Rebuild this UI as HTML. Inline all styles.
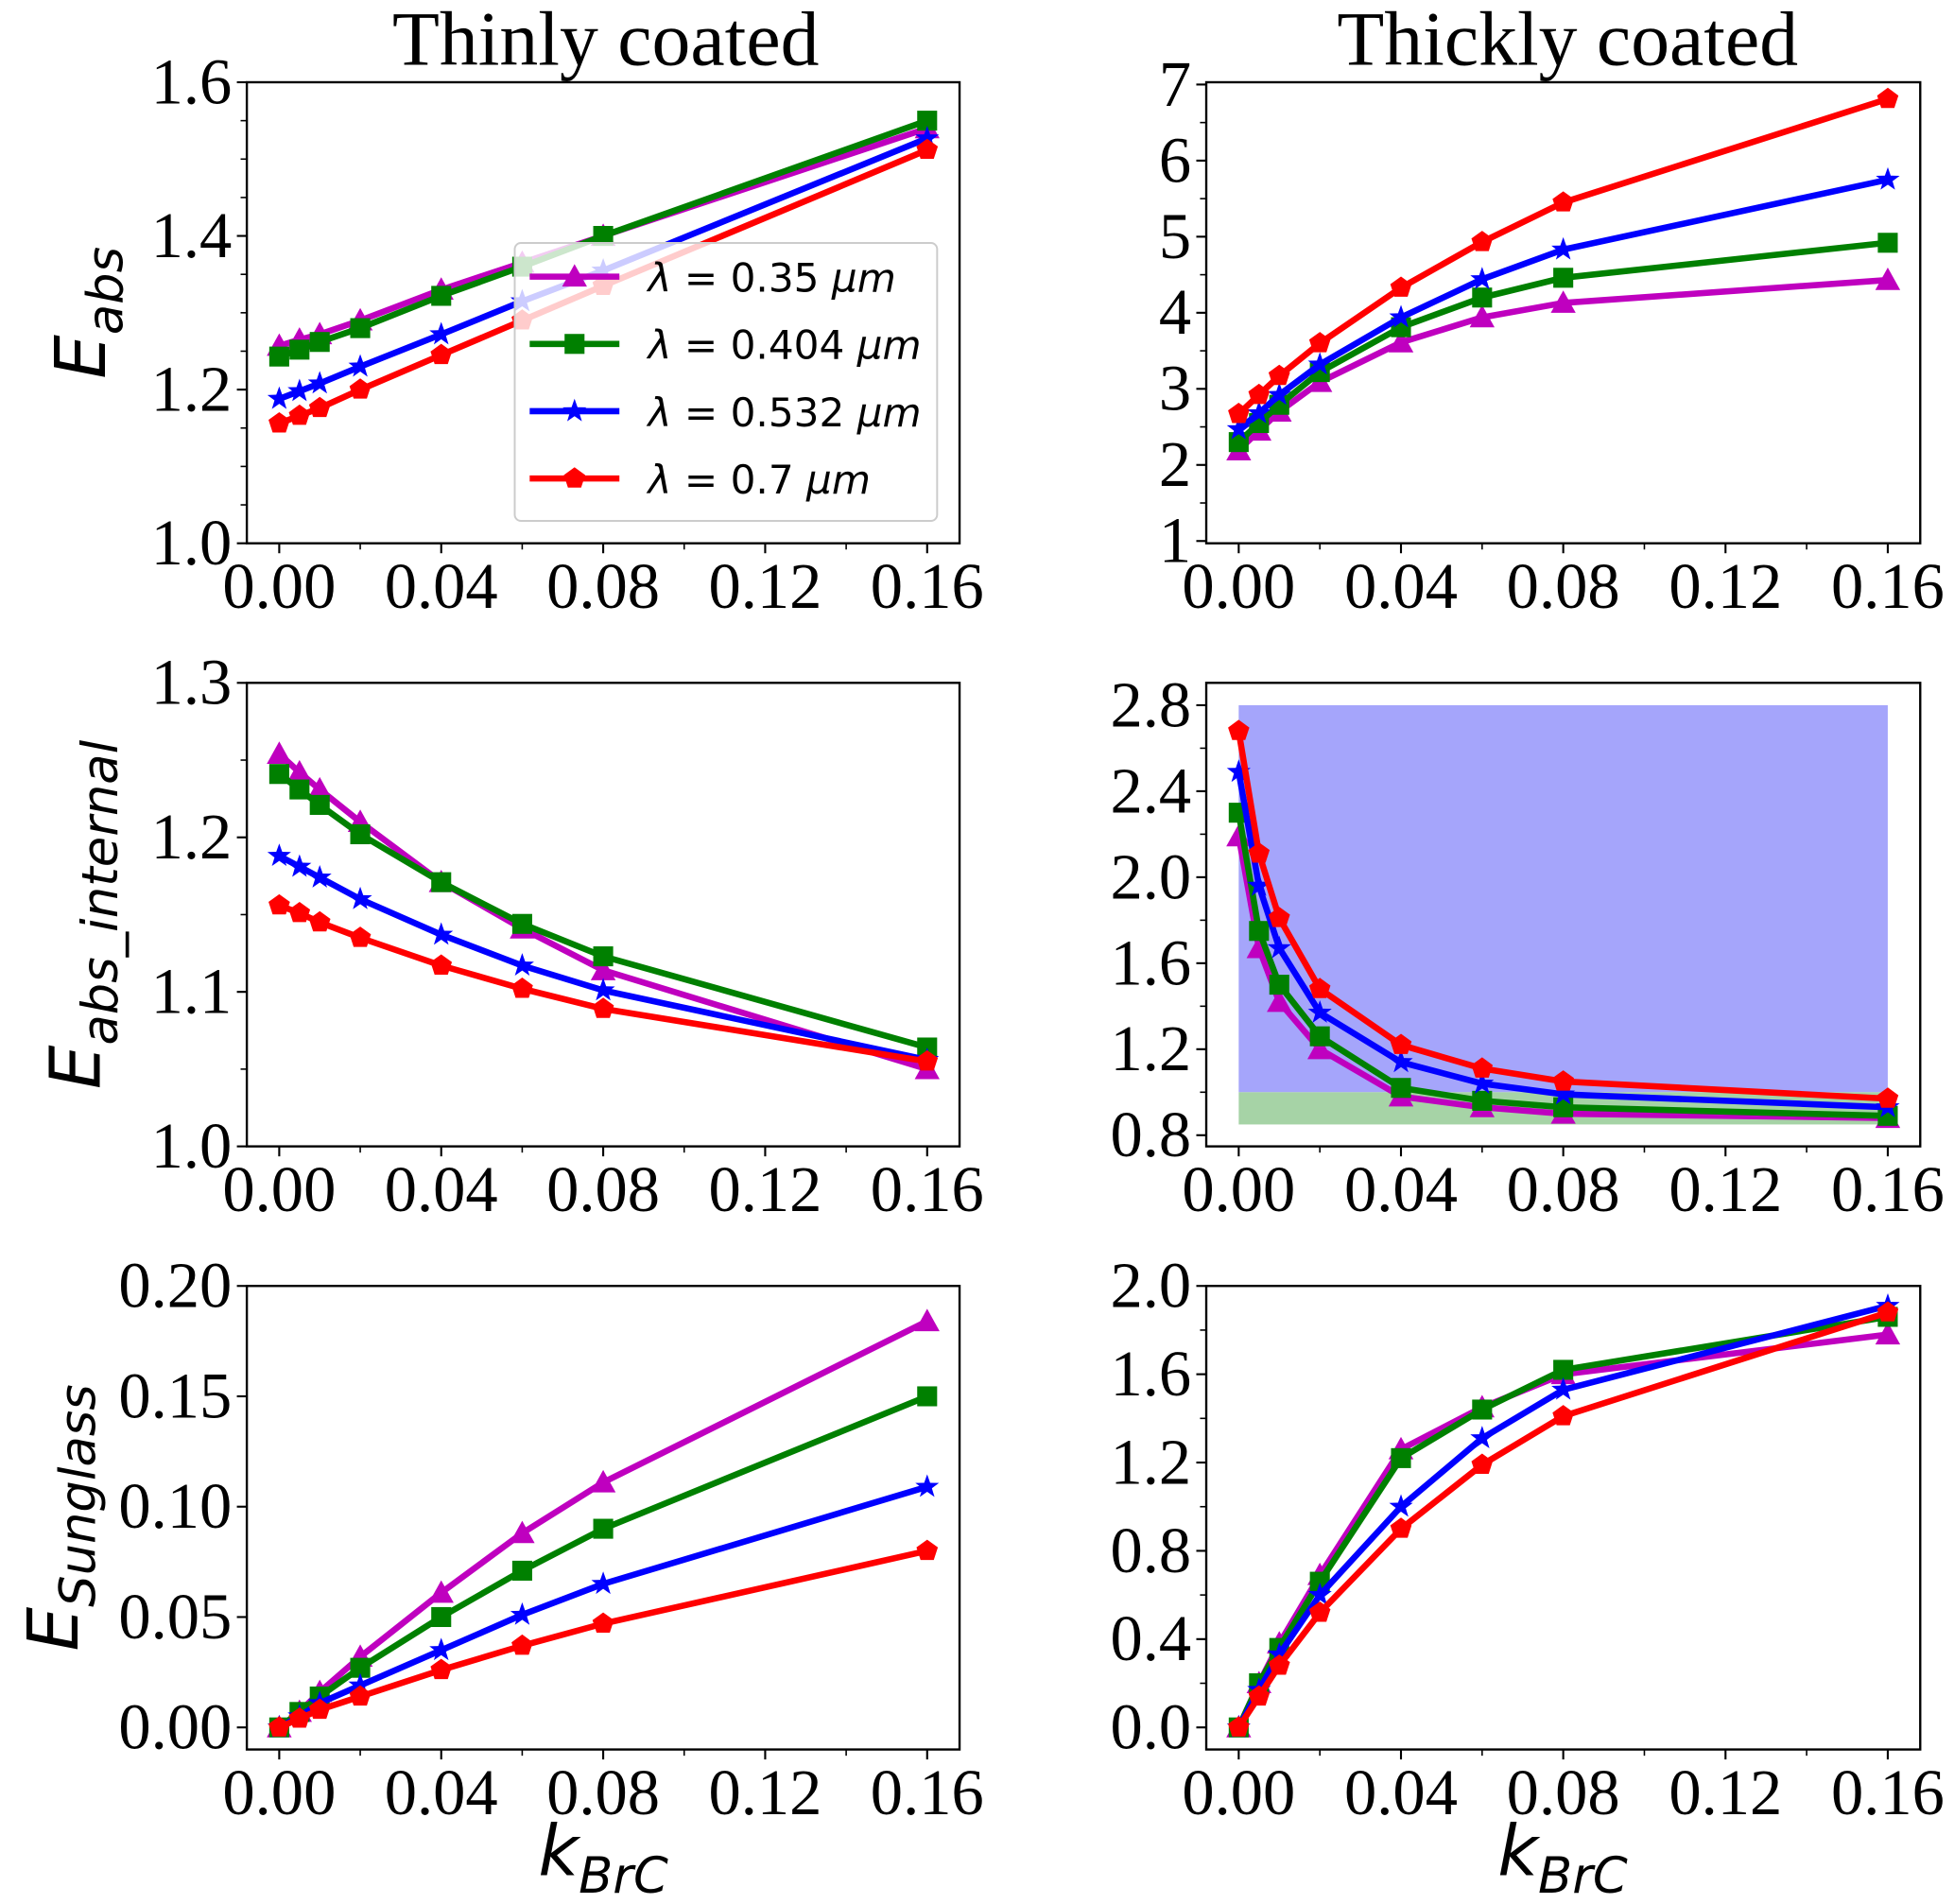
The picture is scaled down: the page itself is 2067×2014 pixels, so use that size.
<!DOCTYPE html>
<html><head><meta charset="utf-8"><style>
html,body{margin:0;padding:0;background:#fff;}
svg{display:block;}
.tick{font-family:"Liberation Serif","DejaVu Serif",serif;font-size:52px;fill:#000;}
.ttl{font-family:"Liberation Serif","DejaVu Serif",serif;font-size:62px;fill:#000;}
.lab{font-family:"DejaVu Sans","Liberation Sans",sans-serif;font-style:italic;fill:#000;}
.leg{font-family:"DejaVu Sans","Liberation Sans",sans-serif;font-size:32px;fill:#000;}
</style></head><body>
<svg id="fig" width="2067" height="2014" viewBox="0 0 1568 1528" xmlns="http://www.w3.org/2000/svg"></svg>
<script>
const kValues=[0,0.005,0.01,0.02,0.04,0.06,0.08,0.16];
const seriesNames=["lambda-0.35","lambda-0.404","lambda-0.532","lambda-0.7"];
const seriesColors=["#bf00bf","#008000","#0000ff","#ff0000"];
const seriesMarkers=["tri","sq","star","pent"];
const xTicks=[0,0.04,0.08,0.12,0.16];
const xTickLabels=["0.00","0.04","0.08","0.12","0.16"];
const eabsThin=[[1.257,1.265,1.272,1.29,1.33,1.365,1.40,1.54],[1.243,1.252,1.262,1.28,1.322,1.36,1.40,1.55],[1.188,1.198,1.208,1.23,1.272,1.315,1.355,1.527],[1.156,1.166,1.176,1.2,1.245,1.29,1.335,1.512]];
const eabsThinTicks=[1.0,1.2,1.4,1.6];
const eabsThinLabels=["1.0","1.2","1.4","1.6"];
const eabsThick=[[2.19,2.45,2.7,3.09,3.61,3.94,4.13,4.43],[2.3,2.55,2.79,3.22,3.81,4.2,4.46,4.92],[2.47,2.68,2.92,3.32,3.94,4.44,4.83,5.75],[2.67,2.92,3.17,3.6,4.33,4.93,5.45,6.81]];
const eabsThickTicks=[1,2,3,4,5,6,7];
const eabsThickLabels=["1","2","3","4","5","6","7"];
const intThin=[[1.254,1.242,1.231,1.21,1.171,1.141,1.114,1.05],[1.241,1.231,1.221,1.202,1.171,1.144,1.123,1.064],[1.188,1.181,1.174,1.16,1.137,1.117,1.101,1.056],[1.156,1.151,1.145,1.135,1.117,1.102,1.089,1.055]];
const intThinTicks=[1.0,1.1,1.2,1.3];
const intThinLabels=["1.0","1.1","1.2","1.3"];
const intThick=[[2.19,1.67,1.42,1.2,0.98,0.93,0.9,0.88],[2.30,1.75,1.5,1.26,1.02,0.96,0.93,0.89],[2.49,1.96,1.67,1.37,1.14,1.04,0.99,0.93],[2.68,2.11,1.81,1.48,1.22,1.11,1.05,0.97]];
const intThickTicks=[0.8,1.2,1.6,2.0,2.4,2.8];
const intThickLabels=["0.8","1.2","1.6","2.0","2.4","2.8"];
const sunThin=[[0,0.007,0.016,0.032,0.061,0.088,0.111,0.184],[0,0.007,0.014,0.027,0.05,0.071,0.09,0.15],[0,0.005,0.011,0.019,0.035,0.051,0.065,0.109],[0,0.004,0.008,0.014,0.026,0.037,0.047,0.08]];
const sunThinTicks=[0,0.05,0.1,0.15,0.2];
const sunThinLabels=["0.00","0.05","0.10","0.15","0.20"];
const sunThick=[[0,0.2,0.38,0.69,1.26,1.45,1.6,1.78],[0,0.2,0.36,0.66,1.22,1.44,1.62,1.86],[0,0.17,0.33,0.6,1.0,1.31,1.53,1.91],[0,0.14,0.28,0.52,0.9,1.19,1.41,1.88]];
const sunThickTicks=[0,0.4,0.8,1.2,1.6,2.0];
const sunThickLabels=["0.0","0.4","0.8","1.2","1.6","2.0"];

const NS="http://www.w3.org/2000/svg";
const fig=document.getElementById('fig');
function mk(tag,attrs,parent){const e=document.createElementNS(NS,tag);for(const k in attrs)e.setAttribute(k,attrs[k]);(parent||fig).appendChild(e);return e;}

function marker(g,type,cx,cy,color){
  let el;
  if(type==="sq"){el=mk('rect',{x:cx-8,y:cy-8,width:16,height:16,fill:color},g);}
  else if(type==="tri"){el=mk('polygon',{points:`${cx},${cy-10} ${cx+10},${cy+8} ${cx-10},${cy+8}`,fill:color},g);}
  else if(type==="pent"){let p=[];for(let i=0;i<5;i++){const a=-Math.PI/2+i*2*Math.PI/5;p.push((cx+9*Math.cos(a)).toFixed(1)+","+(cy+9*Math.sin(a)).toFixed(1));}el=mk('polygon',{points:p.join(" "),fill:color},g);}
  else {let p=[];for(let i=0;i<10;i++){const r=i%2?4:10;const a=-Math.PI/2+i*Math.PI/5;p.push((cx+r*Math.cos(a)).toFixed(1)+","+(cy+r*Math.sin(a)).toFixed(1));}el=mk('polygon',{points:p.join(" "),fill:color},g);}
  
  
}

function panel(name,box,ymin,ymax,data,yTicks,yLabels,minorStep,extra){
  const [L,T,R,B]=box;
  const xmin=-0.008,xmax=0.168;
  const X=v=>L+(v-xmin)/(xmax-xmin)*(R-L);
  const Y=v=>B-(v-ymin)/(ymax-ymin)*(B-T);
  const g=mk('g',{});
  
  
  if(extra)extra(g,X,Y);
  for(let i=0;i<xTicks.length;i++){
    const x=X(xTicks[i]);
    mk('line',{x1:x,y1:B,x2:x,y2:B+8,stroke:'#000','stroke-width':1.6},g);
    const t=mk('text',{x:x,y:B+52,'text-anchor':'middle',class:'tick'},g);t.textContent=xTickLabels[i];
    
  }
  for(let v=0.02;v<0.165;v+=0.04){const x=X(v);mk('line',{x1:x,y1:B,x2:x,y2:B+5,stroke:'#000','stroke-width':1.2},g);}
  for(let i=0;i<yTicks.length;i++){
    const y=Y(yTicks[i]);
    mk('line',{x1:L-8,y1:y,x2:L,y2:y,stroke:'#000','stroke-width':1.6},g);
    const t=mk('text',{x:L-12,y:y+17,'text-anchor':'end',class:'tick'},g);t.textContent=yLabels[i];
    
  }
  if(minorStep){for(let v=yTicks[0];v<=ymax+1e-9;v+=minorStep){const y=Y(v);if(y<T-0.5||y>B+0.5)continue;mk('line',{x1:L-5,y1:y,x2:L,y2:y,stroke:'#000','stroke-width':1.2},g);}}
  for(let s=0;s<data.length;s++){
    const sg=mk('g',{},g);
    
    
    const pts=kValues.map((k,i)=>X(k).toFixed(1)+","+Y(data[s][i]).toFixed(1)).join(" ");
    mk('polyline',{points:pts,fill:'none',stroke:seriesColors[s],'stroke-width':5,'stroke-linejoin':'round'},sg);
    kValues.forEach((k,i)=>marker(sg,seriesMarkers[s],X(k),Y(data[s][i]),seriesColors[s]));
  }
  const fr=mk('rect',{x:L,y:T,width:R-L,height:B-T,fill:'none',stroke:'#000','stroke-width':1.8},g);
  
  return g;
}

const lx=198,lr=770,rx=968,rr=1541;
panel('eabs-thin-panel',[lx,66,lr,436],1.0,1.6,eabsThin,eabsThinTicks,eabsThinLabels,0.05);
panel('eabs-thick-panel',[rx,66,rr,436],0.97,7.03,eabsThick,eabsThickTicks,eabsThickLabels,0.5);
panel('internal-thin-panel',[lx,548,lr,920],1.0,1.3,intThin,intThinTicks,intThinLabels,0.05);
panel('internal-thick-panel',[rx,548,rr,920],0.748,2.904,intThick,intThickTicks,intThickLabels,0.2,(g,X,Y)=>{
  const b=mk('rect',{x:X(0),y:Y(2.8),width:X(0.16)-X(0),height:Y(1.0)-Y(2.8),fill:'#a5a5fb'},g);
  
  const gr=mk('rect',{x:X(0),y:Y(1.0),width:X(0.16)-X(0),height:Y(0.85)-Y(1.0),fill:'#a6d3a6'},g);
  
});
panel('sunglass-thin-panel',[lx,1032,lr,1404],-0.01,0.2,sunThin,sunThinTicks,sunThinLabels,0);
panel('sunglass-thick-panel',[rx,1032,rr,1404],-0.1,2.0,sunThick,sunThickTicks,sunThickLabels,0.2);

let t=mk('text',{x:486,y:52,'text-anchor':'middle',class:'ttl'});t.textContent="Thinly coated";

t=mk('text',{x:1258,y:52,'text-anchor':'middle',class:'ttl'});t.textContent="Thickly coated";


function ylab(name,cx,cy,sub){
  const e=mk('text',{x:0,y:0,class:'lab','font-size':56,'text-anchor':'middle',transform:`translate(${cx},${cy}) rotate(-90)`});
  
  const a=mk('tspan',{},e);a.textContent="E";
  const b=mk('tspan',{dy:14,'font-size':40},e);b.textContent=sub;
}
ylab('y-axis-title-eabs',84,251,"abs");
ylab('y-axis-title-eabs-internal',80,734,"abs_internal");
ylab('y-axis-title-esunglass',62,1218,"Sunglass");
function xlab(name,cx){
  const e=mk('text',{x:cx,y:1505,class:'lab','font-size':56,'text-anchor':'middle'});
  
  const a=mk('tspan',{},e);a.textContent="k";
  const b=mk('tspan',{dy:14,'font-size':40},e);b.textContent="BrC";
}
xlab('x-axis-title-left',484);xlab('x-axis-title-right',1254);

const lg=mk('g',{});

mk('rect',{x:413,y:195,width:339,height:223,rx:5,fill:'#fff','fill-opacity':0.8,stroke:'#ccc','stroke-width':1.5},lg);
const legendLabels=["0.35","0.404","0.532","0.7"];
for(let i=0;i<4;i++){
  const y=222+i*54;
  const eg=mk('g',{},lg);
  
  mk('line',{x1:425,y1:y,x2:497,y2:y,stroke:seriesColors[i],'stroke-width':5},eg);
  marker(eg,seriesMarkers[i],461,y,seriesColors[i]);
  const tx=mk('text',{x:520,y:y+12,class:'leg'},eg);
  tx.innerHTML=`<tspan font-style="italic">λ</tspan> = 0.${legendLabels[i].slice(2)} <tspan font-style="italic">μm</tspan>`;
}
</script>
</body></html>
